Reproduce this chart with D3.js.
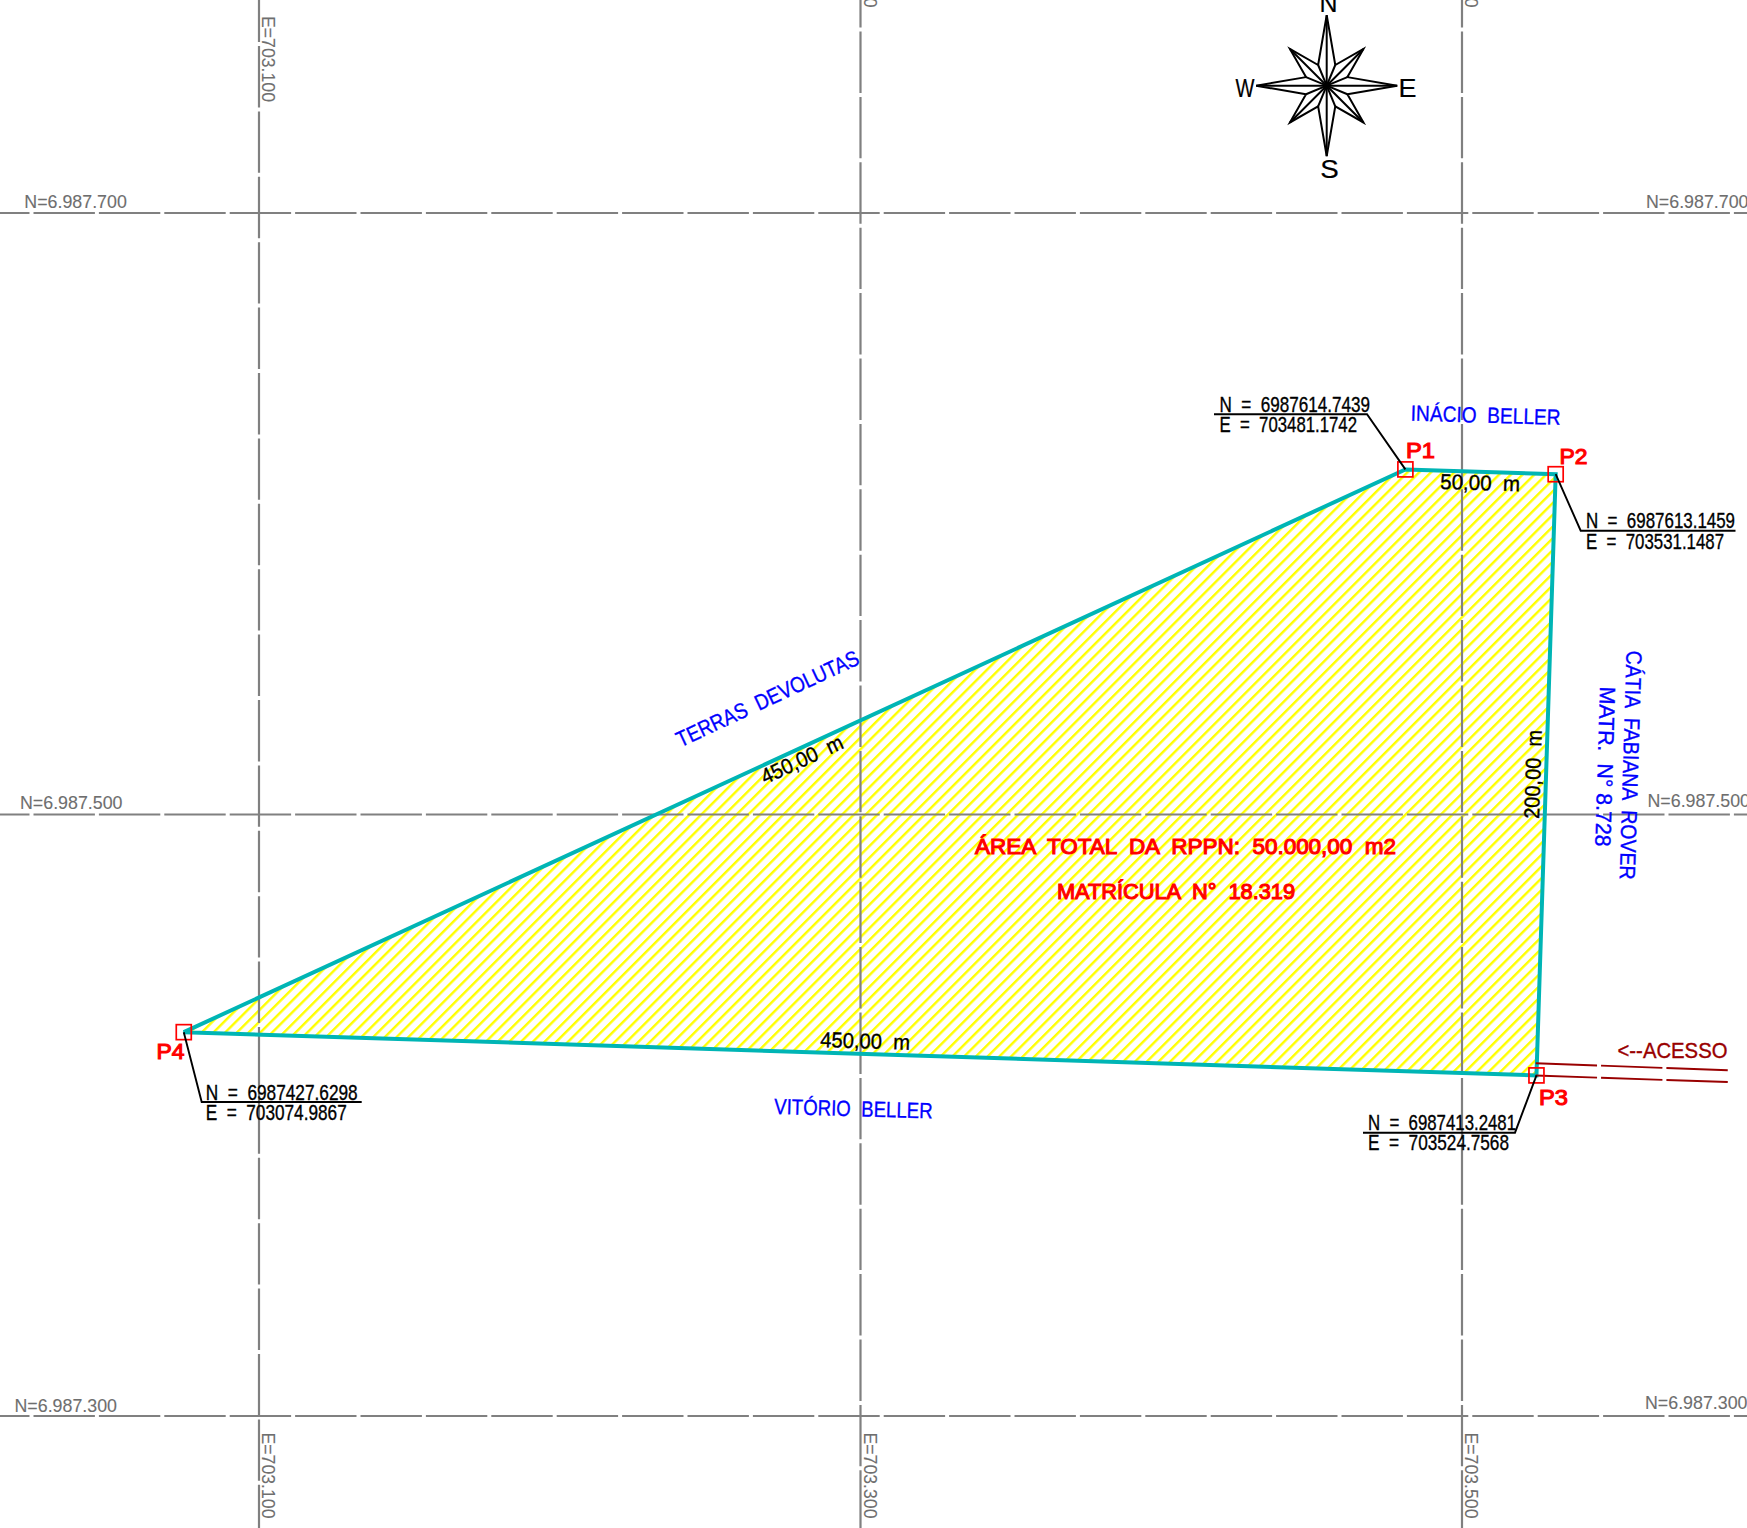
<!DOCTYPE html>
<html>
<head>
<meta charset="utf-8">
<script src="https://cdn.jsdelivr.net/npm/d3@7"></script>
<style>
  html, body { margin: 0; padding: 0; background: #fff; }
  svg { display: block; }
  text { font-family: "Liberation Sans Narrow", "Liberation Sans", sans-serif; white-space: pre; }
</style>
</head>
<body>
<div id="chart-area"></div>
<script>
// grid (metres)
var eastTicks = [703100, 703300, 703500];
var eastLabels = ["E=703.100", "E=703.300", "E=703.500"];
var northTicks = [6987700, 6987500, 6987300];
var northLabels = ["N=6.987.700", "N=6.987.500", "N=6.987.300"];

var pointNames = ["P1", "P2", "P3", "P4"];
var pointEast = [703481.1742, 703531.1487, 703524.7568, 703074.9867];
var pointNorth = [6987614.7439, 6987613.1459, 6987413.2481, 6987427.6298];

// access road, two edges
var roadEast = [703524.5, 703589.4];
var roadNorthA = [6987417.3, 6987414.9];
var roadNorthB = [6987413.2, 6987411.0];

var compassLetters = ["N", "E", "S", "W"];

var width = 1747;
var height = 1528;

// same scale both ways, it is a map
var x = d3.scaleLinear().domain([703100, 703500]).range([259, 1462]);
var y = d3.scaleLinear().domain([6987700, 6987300]).range([213, 1416]);

var svg = d3.select("#chart-area").append("svg")
    .attr("width", width)
    .attr("height", height);

var defs = svg.append("defs");
var hatch = defs.append("pattern")
    .attr("id", "hatch")
    .attr("patternUnits", "userSpaceOnUse")
    .attr("width", 8.3)
    .attr("height", 8.3)
    .attr("patternTransform", "rotate(45)");
hatch.append("rect")
    .attr("width", 2.4)
    .attr("height", 8.3)
    .attr("fill", "#ffff00");

var vertices = pointNames.map(function(d, i) {
  return {name: d, e: pointEast[i], n: pointNorth[i]};
});

var line = d3.line()
    .x(function(d) { return x(d.e); })
    .y(function(d) { return y(d.n); })
    .curve(d3.curveLinearClosed);

// hatched area
svg.append("path")
    .datum(vertices)
    .attr("d", line)
    .attr("fill", "url(#hatch)");

// grid lines
var gridColor = "#808080";
var dash = "61.4 4";
var eastDashOffset = [61.4 - 42, 61.4 - 27.5, 61.4 - 27.5];

svg.selectAll(".east").data(eastTicks).enter().append("line")
    .attr("class", "east")
    .attr("x1", function(d) { return x(d); })
    .attr("x2", function(d) { return x(d); })
    .attr("y1", 0)
    .attr("y2", height)
    .attr("stroke", gridColor)
    .attr("stroke-width", 2.2)
    .attr("stroke-dasharray", dash)
    .attr("stroke-dashoffset", function(d, i) { return eastDashOffset[i]; });

svg.selectAll(".north").data(northTicks).enter().append("line")
    .attr("class", "north")
    .attr("x1", 0)
    .attr("x2", width)
    .attr("y1", function(d) { return y(d); })
    .attr("y2", function(d) { return y(d); })
    .attr("stroke", gridColor)
    .attr("stroke-width", 2.2)
    .attr("stroke-dasharray", dash)
    .attr("stroke-dashoffset", 61.4 - 29.5);

// boundary
svg.append("path")
    .datum(vertices)
    .attr("d", line)
    .attr("fill", "none")
    .attr("stroke", "#00b5b5")
    .attr("stroke-width", 4)
    .attr("stroke-linejoin", "miter");

// access road
var roadLine = d3.line()
    .x(function(d) { return x(d[0]); })
    .y(function(d) { return y(d[1]); });
[roadNorthA, roadNorthB].forEach(function(north) {
  svg.append("path")
      .datum(roadEast.map(function(e, i) { return [e, north[i]]; }))
      .attr("d", roadLine)
      .attr("fill", "none")
      .attr("stroke", "#990000")
      .attr("stroke-width", 1.9)
      .attr("stroke-dasharray", "61.4 4");
});

// vertex markers
svg.selectAll(".mark").data(vertices).enter().append("rect")
    .attr("class", "mark")
    .attr("x", function(d) { return x(d.e) - 7.5; })
    .attr("y", function(d) { return y(d.n) - 7.5; })
    .attr("width", 15)
    .attr("height", 15)
    .attr("fill", "none")
    .attr("stroke", "#ff0000")
    .attr("stroke-width", 1.7);

// CAD lettering is a single stroke font, a thin outline gets the weight closer
function label(text, px, py, len, size, color, rot, outline) {
  return svg.append("text")
      .attr("transform", "translate(" + px + "," + py + ") rotate(" + (rot || 0) + ")")
      .attr("textLength", len)
      .attr("lengthAdjust", "spacingAndGlyphs")
      .attr("font-size", size)
      .attr("fill", color)
      .attr("stroke", color)
      .attr("stroke-width", outline || 0.35)
      .text(text);
}

// grid labels
var gridText = "#6e6e6e";
var eastTopY = [16, -78.5, -78.5];
eastLabels.forEach(function(d, i) {
  label(d, x(eastTicks[i]) + 3, eastTopY[i], 86, 18.6, gridText, 90, 0.1);
  label(d, x(eastTicks[i]) + 3, 1432.5, 86, 18.6, gridText, 90, 0.1);
});
var northLeftX = [24.3, 20, 14.5];
var northRightX = [1646, 1647.5, 1645];
var northLeftDy = [-5.5, -5.5, -4.5];
var northRightDy = [-4.8, -7.6, -7];
northLabels.forEach(function(d, i) {
  label(d, northLeftX[i], y(northTicks[i]) + northLeftDy[i], 102.5, 18.6, gridText, 0, 0.1);
  label(d, northRightX[i], y(northTicks[i]) + northRightDy[i], 102.5, 18.6, gridText, 0, 0.1);
});

// coordinate notes: text baseline, underline and leader to the vertex
var noteLayout = [
  {tx: 1219.5, ny: 411.5, ey: 432.2, nw: 150.5, ew: 137.5, lx1: 1214, lx2: 1367, ly: 414.3},
  {tx: 1586, ny: 528, ey: 549, nw: 149, ew: 138, lx1: 1735.5, lx2: 1580.7, ly: 530.7},
  {tx: 1368, ny: 1129.5, ey: 1149.5, nw: 148, ew: 141, lx1: 1363, lx2: 1515, ly: 1132.7},
  {tx: 205.7, ny: 1099.5, ey: 1119.5, nw: 152, ew: 141, lx1: 361.7, lx2: 201.7, ly: 1102}
];
vertices.forEach(function(d, i) {
  var p = noteLayout[i];
  svg.append("path")
      .attr("d", d3.line()([[p.lx1, p.ly], [p.lx2, p.ly], [x(d.e), y(d.n)]]))
      .attr("fill", "none")
      .attr("stroke", "#000")
      .attr("stroke-width", 1.9);
  label("N  =  " + d.n.toFixed(4), p.tx, p.ny, p.nw, 21.5, "#000");
  label("E  =  " + d.e.toFixed(4), p.tx, p.ey, p.ew, 21.5, "#000");
});

// point names
var nameLayout = [[1406, 458, 29], [1559.5, 464, 28], [1539, 1105, 29], [156.5, 1059, 28]];
vertices.forEach(function(d, i) {
  var p = nameLayout[i];
  label(d.name, p[0], p[1], p[2], 22, "#ff0000", 0, 1.1);
});

// side lengths
label("50,00  m", 1440, 489, 80, 21.5, "#000", 1.7);
label("450,00  m", 765, 784.5, 88, 21.5, "#000", -24.7);
label("450,00  m", 820, 1047, 90, 21.5, "#000", 1.8);
label("200,00  m", 1539, 819, 89, 21.5, "#000", -88.2);

// neighbours
label("TERRAS  DEVOLUTAS", 680.5, 747.5, 199, 22, "#0000ff", -25);
label("INÁCIO  BELLER", 1410.5, 420.7, 150, 22, "#0000ff", 1.6);
label("VITÓRIO  BELLER", 774, 1114, 158.5, 22, "#0000ff", 1.6);
label("CÁTIA  FABIANA  ROVER", 1626.5, 650.5, 229, 22, "#0000ff", 91.7);
label("MATR.  N° 8.728", 1600, 686.5, 160, 22, "#0000ff", 91.7);

// area title
label("ÁREA  TOTAL  DA  RPPN:  50.000,00  m2", 975, 854, 421, 21.5, "#ff0000", 0, 1.1);
label("MATRÍCULA  N°  18.319", 1057, 899, 238, 21.5, "#ff0000", 0, 1.1);

label("<--ACESSO", 1617.5, 1058, 110, 21.5, "#990000");

// north arrow
var compassCenter = [1326.7, 85.7];
var compass = svg.append("g")
    .attr("transform", "translate(" + compassCenter[0] + "," + compassCenter[1] + ")")
    .attr("fill", "none")
    .attr("stroke", "#000")
    .attr("stroke-width", 2)
    .attr("stroke-linejoin", "miter");
var outer = [], inner = [];
d3.range(8).forEach(function(k) {
  var a = k * Math.PI / 4;
  outer.push(d3.pointRadial(a, k % 2 ? 52 : 70.5));
  inner.push(d3.pointRadial(a + Math.PI / 8, 22.4));
});
var ring = [];
outer.forEach(function(d, k) { ring.push(d, inner[k]); });
compass.append("path").attr("d", d3.line().curve(d3.curveLinearClosed)(ring));
ring.forEach(function(d) {
  compass.append("path").attr("d", d3.line()([[0, 0], d]));
});
var letterLayout = [[1319.5, 12, 18], [1398.5, 97, 18], [1320.2, 178, 18.5], [1235.5, 97, 19]];
compassLetters.forEach(function(d, i) {
  var p = letterLayout[i];
  label(d, p[0], p[1], p[2], 25, "#000", 0, 0.2);
});
</script>
</body>
</html>
